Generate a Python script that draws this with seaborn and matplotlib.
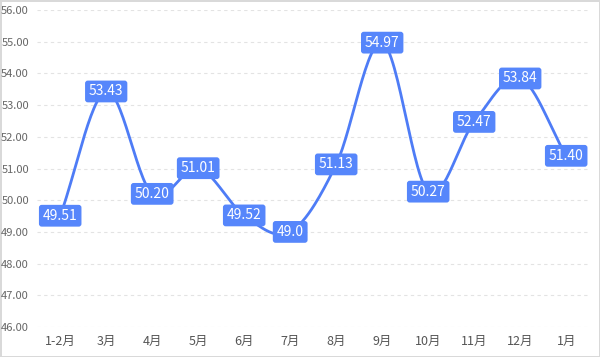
import numpy as np
import pandas as pd
import matplotlib
matplotlib.use("Agg")
import matplotlib.pyplot as plt
import seaborn as sns

months = ['1-2月', '3月', '4月', '5月', '6月', '7月', '8月', '9月', '10月', '11月', '12月', '1月']
values = [49.51, 53.43, 50.20, 51.01, 49.52, 49.00, 51.13, 54.97, 50.27, 52.47, 53.84, 51.40]
value_labels = ['49.51', '53.43', '50.20', '51.01', '49.52', '49.0', '51.13', '54.97', '50.27', '52.47', '53.84', '51.40']
y_ticks = [46, 47, 48, 49, 50, 51, 52, 53, 54, 55, 56]

line_color = '#4e7cf6'
box_color = '#5686fb'

sns.set_theme(style='white')
plt.rcParams['font.family'] = ['Noto Sans CJK SC', 'DejaVu Sans']


# smooth curve through the points (cardinal spline, like the original chart's smooth line)
def smooth_curve(x, y, n=30, tension=0.5):
    x = np.asarray(x, float)
    y = np.asarray(y, float)
    xs, ys = [], []
    for i in range(len(x) - 1):
        p0 = max(i - 1, 0)
        p3 = min(i + 2, len(x) - 1)
        m1 = tension * (y[i + 1] - y[p0]) / (x[i + 1] - x[p0]) * (x[i + 1] - x[i])
        m2 = tension * (y[p3] - y[i]) / (x[p3] - x[i]) * (x[i + 1] - x[i])
        t = np.linspace(0, 1, n, endpoint=False)
        h00 = 2 * t**3 - 3 * t**2 + 1
        h10 = t**3 - 2 * t**2 + t
        h01 = -2 * t**3 + 3 * t**2
        h11 = t**3 - t**2
        xs.append(x[i] + t * (x[i + 1] - x[i]))
        ys.append(h00 * y[i] + h10 * m1 * 2 + h01 * y[i + 1] + h11 * m2 * 2)
    xs.append([x[-1]])
    ys.append([y[-1]])
    return np.concatenate(xs), np.concatenate(ys)


pos = np.arange(len(months))
sx, sy = smooth_curve(pos, values)
curve = pd.DataFrame({'x': sx, 'y': sy})

fig = plt.figure(figsize=(6.0, 3.57), dpi=100)
fig.patch.set_edgecolor('#d9d9d9')
fig.patch.set_linewidth(2)
ax = fig.add_axes([0.062, 0.084, 0.92, 0.888])

sns.lineplot(data=curve, x='x', y='y', ax=ax, color=line_color, linewidth=2)

for x, v, lab in zip(pos, values, value_labels):
    ax.text(x, v, lab, ha='center', va='center', color='white', fontsize=10,
            bbox=dict(boxstyle='round,pad=0.28,rounding_size=0.2', fc=box_color, ec='none'),
            zorder=5)

ax.set_xlim(-0.5, len(months) - 0.5)
ax.set_ylim(46, 56)
ax.set_xticks(pos)
ax.set_xticklabels(months)
ax.set_yticks(y_ticks)
ax.set_yticklabels([f'{t:.2f}' for t in y_ticks])
ax.tick_params(axis='y', labelsize=8, labelcolor='#666666', length=0, pad=6)
ax.tick_params(axis='x', labelsize=9, labelcolor='#555555', length=0, pad=6)
ax.set_xlabel('')
ax.set_ylabel('')
ax.grid(axis='y', color='#e3e3e3', linestyle=(0, (3, 3)), linewidth=0.8)
for s in ax.spines.values():
    s.set_visible(False)

fig.savefig('out.png', dpi=100)
